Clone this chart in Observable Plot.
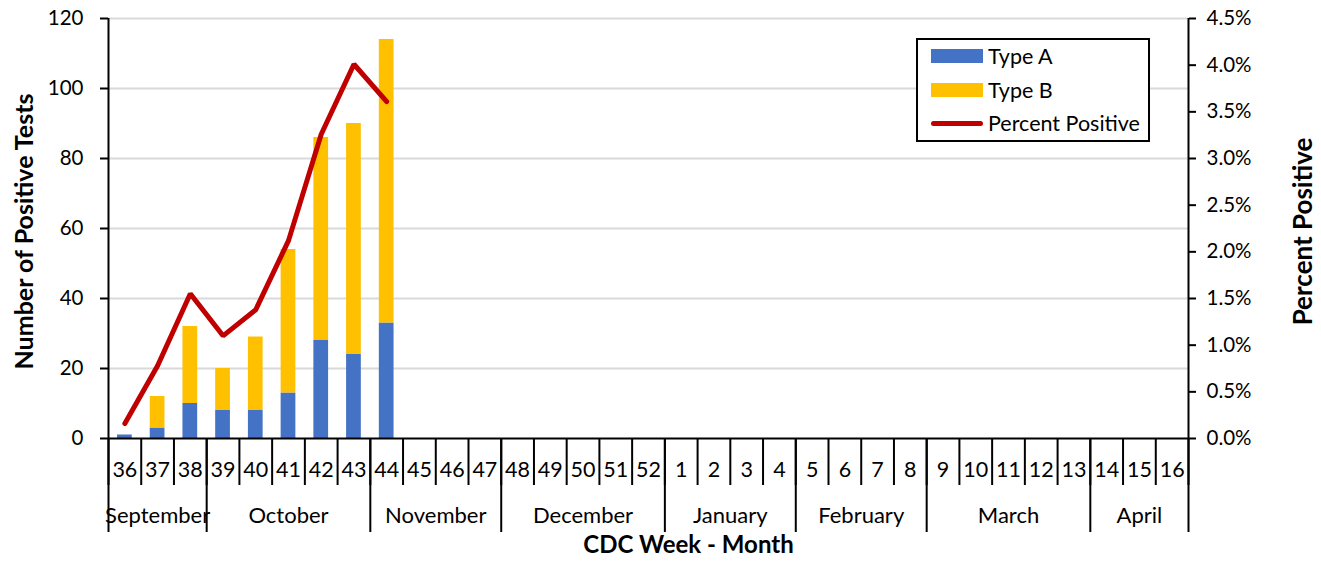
<!DOCTYPE html>
<html>
<head>
<meta charset="utf-8">
<script src="https://cdn.jsdelivr.net/npm/d3@7"></script>
<script src="https://cdn.jsdelivr.net/npm/@observablehq/plot@0.6"></script>
<style>
  body { margin: 0; background: #fff; font-family: Lato, "Open Sans", sans-serif; }
  #wrap { position: relative; width: 1321px; height: 565px; }
  #legend { position: absolute; left: 916px; top: 38px; width: 234px; height: 104px; border: 2px solid #000; box-sizing: border-box; background: #fff; font-size: 21.5px; color: #000; }
  .item { position: absolute; left: 13px; height: 24px; display: flex; align-items: center; }
  .sw { width: 52px; height: 14px; margin-right: 5px; }
  .ln { width: 52px; height: 5px; border-radius: 3px; margin-right: 5px; }
</style>
</head>
<body>
<div id="wrap">
  <div id="chart"></div>
  <div id="legend"></div>
</div>
<script>
// ---- data ----
const weeks = [36, 37, 38, 39, 40, 41, 42, 43, 44, 45, 46, 47, 48, 49, 50, 51, 52, 1, 2, 3, 4, 5, 6, 7, 8, 9, 10, 11, 12, 13, 14, 15, 16];
const months = ["September", "October", "November", "December", "January", "February", "March", "April"];
const weeksPerMonth = [3, 5, 4, 5, 4, 4, 5, 3];
const typeA = [1, 3, 10, 8, 8, 13, 28, 24, 33];
const typeB = [0, 9, 22, 12, 21, 41, 58, 66, 81];
const percentPositive = [0.16, 0.78, 1.55, 1.10, 1.38, 2.12, 3.26, 4.01, 3.61];
const leftTicks = [0, 20, 40, 60, 80, 100, 120];
const rightTicks = [0, 0.5, 1.0, 1.5, 2.0, 2.5, 3.0, 3.5, 4.0, 4.5];
const seriesNames = ["Type A", "Type B", "Percent Positive"];
const colors = ["#4472c4", "#ffc000", "#c00000"];

// ---- derived tables ----
const yMax = 120, pMax = 4.5;
const toY = p => p * yMax / pMax;
const bars = [];
typeA.forEach((a, i) => {
  bars.push({i, type: "Type A", y1: 0, y2: a});
  bars.push({i, type: "Type B", y1: a, y2: a + typeB[i]});
});
const linePts = percentPositive.map((p, i) => ({i, v: toY(p)}));
const monthBounds = [0];
weeksPerMonth.forEach(n => monthBounds.push(monthBounds[monthBounds.length - 1] + n));
const monthCenters = weeksPerMonth.map((n, k) => monthBounds[k] + n / 2);
const weekCenters = weeks.map((w, i) => i + 0.5);

const chart = Plot.plot({
  width: 1321,
  height: 565,
  marginTop: 18,
  marginBottom: 127,
  marginLeft: 108,
  marginRight: 133,
  style: {fontFamily: "Lato, 'Open Sans', sans-serif", fontSize: "20px", color: "#000", background: "#fff"},
  x: {domain: [0, weeks.length]},
  y: {domain: [0, yMax]},
  color: {domain: seriesNames, range: colors},
  marks: [
    Plot.gridY({ticks: leftTicks.slice(1), stroke: "#d9d9d9", strokeOpacity: 1, strokeWidth: 2}),
    Plot.rect(bars, {x1: d => d.i, x2: d => d.i + 1, y1: "y1", y2: "y2", fill: "type", insetLeft: 9, insetRight: 9}),
    Plot.line(linePts, {x: d => d.i + 0.5, y: "v", stroke: colors[2], strokeWidth: 5, strokeLinejoin: "miter", strokeLinecap: "round"}),
    Plot.axisY({anchor: "left", ticks: leftTicks, tickSize: 8, tickPadding: 17, strokeWidth: 2, label: null, fontSize: 20.5}),
    Plot.axisY({anchor: "right", ticks: rightTicks.map(toY), tickFormat: d => (d * pMax / yMax).toFixed(1) + "%", tickSize: 7, tickPadding: 11, strokeWidth: 2, label: null, fontSize: 20.5}),
    Plot.ruleX([0, weeks.length], {stroke: "#000", strokeWidth: 2}),
    Plot.ruleY([0], {stroke: "#000", strokeWidth: 2}),
    Plot.axisX({ticks: d3.range(weeks.length + 1), tickFormat: () => "", tickSize: 47, strokeWidth: 2, label: null}),
    Plot.axisX({ticks: monthBounds, tickFormat: () => "", tickSize: 94, strokeWidth: 2, label: null}),
    Plot.axisX({ticks: weekCenters, tickFormat: d => String(weeks[Math.floor(d)]), tickSize: 0, tickPadding: 23, label: null, fontSize: 21.5}),
    Plot.axisX({ticks: monthCenters, tickFormat: d => months[monthCenters.indexOf(d)], tickSize: 0, tickPadding: 69, label: null, fontSize: 22}),
    Plot.text(["Number of Positive Tests"], {frameAnchor: "left", textAnchor: "middle", rotate: -90, dx: -84, dy: 3, fontWeight: "bold", fontSize: 25}),
    Plot.text(["Percent Positive"], {frameAnchor: "right", textAnchor: "middle", rotate: -90, dx: 115, dy: 3, fontWeight: "bold", fontSize: 26}),
    Plot.text(["CDC Week - Month"], {frameAnchor: "bottom", dy: 114, dx: 40, fontWeight: "bold", fontSize: 24})
  ]
});
document.getElementById("chart").appendChild(chart);

// legend
const lg = document.getElementById("legend");
const rowsTop = [4, 38, 71];
seriesNames.forEach((name, k) => {
  const it = document.createElement("div");
  it.className = "item";
  it.style.top = rowsTop[k] + "px";
  const sw = document.createElement("div");
  sw.className = k < 2 ? "sw" : "ln";
  sw.style.background = colors[k];
  const tx = document.createElement("span");
  tx.textContent = name;
  it.appendChild(sw);
  it.appendChild(tx);
  lg.appendChild(it);
});
</script>
</body>
</html>
